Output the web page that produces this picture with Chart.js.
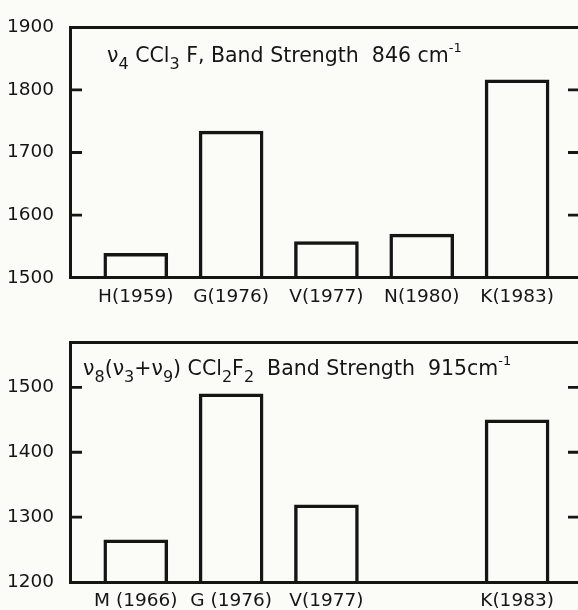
<!DOCTYPE html>
<html>
<head>
<meta charset="utf-8">
<script src="https://cdn.jsdelivr.net/npm/chart.js@4/dist/chart.umd.min.js"></script>
<style>
  html, body { margin: 0; padding: 0; overflow: hidden; background: #fbfbf8; }
  .panel { position: absolute; left: 0; }
  #top { top: 0; }
  #bottom { top: 305px; }
</style>
</head>
<body>
<div class="panel" id="top"><canvas id="cfc11" width="590" height="305"></canvas></div>
<div class="panel" id="bottom"><canvas id="cfc12" width="590" height="320"></canvas></div>
<script>
// upper panel: nu4 CCl3F band strength
const cfc11Labels = ['H(1959)', 'G(1976)', 'V(1977)', 'N(1980)', 'K(1983)'];
const cfc11Values = [1539, 1734, 1558, 1570, 1816];
const cfc11Ticks = [1500, 1600, 1700, 1800, 1900];
const cfc11Title = [['\u03BD', ''], ['4', 'sub'], [' CCl', ''], ['3', 'sub'], [' F, Band Strength  846 cm', ''], ['-1', 'sup']];

// lower panel: nu8 (nu3+nu9) CCl2F2 band strength, slot 4 is empty
const cfc12Labels = ['M (1966)', 'G (1976)', 'V(1977)', '', 'K(1983)'];
const cfc12Values = [1265, 1490, 1319, null, 1450];
const cfc12Ticks = [1200, 1300, 1400, 1500];
const cfc12Max = 1570;
const cfc12Title = [['\u03BD', ''], ['8', 'sub'], ['(\u03BD', ''], ['3', 'sub'], ['+\u03BD', ''], ['9', 'sub'], [') CCl', ''], ['2', 'sub'], ['F', ''], ['2', 'sub'], ['  Band Strength  915cm', ''], ['-1', 'sup']];

const INK = '#151515';
const FONT = '"DejaVu Sans", sans-serif';

// inward ticks on both sides of the box + the title written inside the box
const panelDecor = {
  id: 'panelDecor',
  afterDatasetsDraw(chart, args, opts) {
    const { ctx, chartArea: a } = chart;
    const y = chart.scales.y;
    ctx.save();
    ctx.strokeStyle = INK;
    ctx.lineWidth = 2.8;
    ctx.beginPath();
    y.ticks.forEach(t => {
      if (t.value <= y.min || t.value >= y.max) return;
      const py = y.getPixelForValue(t.value);
      ctx.moveTo(a.left, py); ctx.lineTo(a.left + opts.tick, py);
      ctx.moveTo(a.right, py); ctx.lineTo(a.right - opts.tick, py);
    });
    ctx.stroke();

    let x = a.left + opts.dx;
    const base = a.top + opts.dy;
    ctx.fillStyle = INK;
    ctx.textBaseline = 'alphabetic';
    opts.parts.forEach(([txt, pos]) => {
      const size = pos === 'sub' ? 16 : pos === 'sup' ? 13 : 20.5;
      ctx.font = size + 'px ' + FONT;
      const off = pos === 'sub' ? 7 : pos === 'sup' ? -10 : 0;
      ctx.fillText(txt, x, base + off);
      x += ctx.measureText(txt).width;
    });
    ctx.restore();
  }
};

function makePanel(canvasId, labels, values, yTicks, yMax, title, pad, axisH, titlePos) {
  return new Chart(document.getElementById(canvasId), {
    type: 'bar',
    data: {
      datasets: [{
        data: values.map((v, i) => ({ x: i, y: v })),
        backgroundColor: 'rgba(0,0,0,0)',
        borderColor: INK,
        borderWidth: 2.8,
        barThickness: 64
      }]
    },
    options: {
      responsive: false,
      animation: false,
      layout: { padding: { left: 0, right: 10, top: pad, bottom: 0 } },
      plugins: {
        legend: { display: false },
        tooltip: { enabled: false },
        panelDecor: { parts: title, tick: 12, dx: titlePos[0], dy: titlePos[1] }
      },
      scales: {
        x: {
          type: 'linear',
          position: 'bottom',
          offset: false,
          min: -0.69,
          max: 4.66,
          afterBuildTicks: axis => { axis.ticks = labels.map((_, i) => ({ value: i })); },
          afterFit: s => { s.height = axisH; },
          grid: { display: false, drawTicks: false },
          border: { color: INK, width: 3 },
          ticks: {
            color: INK,
            padding: 8,
            maxRotation: 0,
            autoSkip: false,
            font: { family: FONT, size: 18.5 },
            callback: v => labels[v] ?? ''
          }
        },
        xTop: {
          type: 'linear',
          position: 'top',
          offset: false,
          min: 0,
          max: 1,
          afterFit: s => { s.height = 0; },
          grid: { display: false, drawTicks: false },
          border: { color: INK, width: 3 },
          ticks: { display: false }
        },
        y: {
          min: yTicks[0],
          max: yMax,
          afterBuildTicks: axis => { axis.ticks = yTicks.map(v => ({ value: v })); },
          afterFit: s => { s.width = 70; },
          grid: { display: false, drawTicks: false },
          border: { color: INK, width: 3 },
          ticks: {
            color: INK,
            padding: 16,
            font: { family: FONT, size: 18.5 },
            callback: v => String(v)
          }
        }
      }
    },
    plugins: [panelDecor]
  });
}

makePanel('cfc11', cfc11Labels, cfc11Values, cfc11Ticks, cfc11Ticks[cfc11Ticks.length - 1],
  cfc11Title, 23, 26, [37, 35]);
makePanel('cfc12', cfc12Labels, cfc12Values, cfc12Ticks, cfc12Max,
  cfc12Title, 37, 43, [13, 33]);
</script>
</body>
</html>
